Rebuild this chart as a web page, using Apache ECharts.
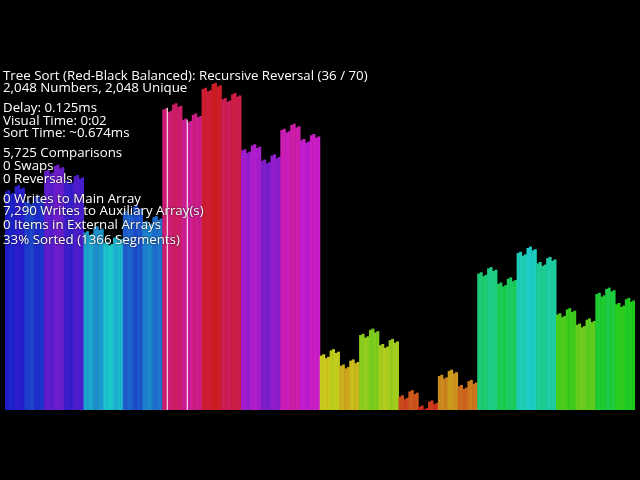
<!DOCTYPE html>
<html><head><meta charset="utf-8">
<script src="https://cdn.jsdelivr.net/npm/echarts@6/dist/echarts.min.js"></script>
<style>html,body{margin:0;background:#000}#c{width:640px;height:480px}</style>
</head><body><div id="c"></div><script>
// Each block = 128 array elements, drawn as 16 bars of 8 elements (average value)
const block00 = [1364,1372,1348,1356,1396,1404,1380,1388,1300,1308,1284,1292,1332,1340,1316,1324];
const block01 = [1492,1500,1476,1484,1524,1532,1508,1516,1428,1436,1412,1420,1460,1468,1444,1452];
const block02 = [1108,1116,1092,1100,1140,1148,1124,1132,1044,1052,1028,1036,1076,1084,1060,1068];
const block03 = [1236,1244,1220,1228,1268,1276,1252,1260,1172,1180,1156,1164,1204,1212,1188,1196];
const block04 = [1876,1884,1860,1868,1908,1916,1892,1900,1812,1820,1796,1804,1844,1852,1828,1836];
const block05 = [2004,2012,1988,1996,2036,2044,2020,2028,1940,1948,1924,1932,1972,1980,1956,1964];
const block06 = [1620,1628,1604,1612,1652,1660,1636,1644,1556,1564,1540,1548,1588,1596,1572,1580];
const block07 = [1748,1756,1732,1740,1780,1788,1764,1772,1684,1692,1668,1676,1716,1724,1700,1708];
const block08 = [340,348,324,332,372,380,356,364,276,284,260,268,308,316,292,300];
const block09 = [468,476,452,460,500,508,484,492,404,412,388,396,436,444,420,428];
const block10 = [84,92,68,76,116,124,100,108,20,28,4,12,52,60,36,44];
const block11 = [212,220,196,204,244,252,228,236,148,156,132,140,180,188,164,172];
const block12 = [852,860,836,844,884,892,868,876,788,796,772,780,820,828,804,812];
const block13 = [980,988,964,972,1012,1020,996,1004,916,924,900,908,948,956,932,940];
const block14 = [596,604,580,588,628,636,612,620,532,540,516,524,564,572,548,556];
const block15 = [724,732,708,716,756,764,740,748,660,668,644,652,692,700,676,684];
const values = [].concat(block00,block01,block02,block03,block04,block05,block06,block07,
  block08,block09,block10,block11,block12,block13,block14,block15);
const totalElements = 2048;
const markIndex = [527, 592];
const markValues = [1888, 1812];
const infoLines = [
  ['Tree Sort (Red-Black Balanced): Recursive Reversal (36 / 70)', 75.5],
  ['2,048 Numbers, 2,048 Unique', 87.5],
  ['Delay: 0.125ms', 108],
  ['Visual Time: 0:02', 120.5],
  ['Sort Time: ~0.674ms', 132.5],
  ['5,725 Comparisons', 152.5],
  ['0 Swaps', 166],
  ['0 Reversals', 178.5],
  ['0 Writes to Main Array', 198.5],
  ['7,290 Writes to Auxiliary Array(s)', 211],
  ['0 Items in External Arrays', 224.5],
  ['33% Sorted (1366 Segments)', 239.5]
];

function hsv(h, s, v) {
  const f = n => { const k = (n + h / 60) % 6; return v - v * s * Math.max(0, Math.min(k, 4 - k, 1)); };
  const c = x => Math.round(x * 255);
  return 'rgb(' + c(f(5)) + ',' + c(f(3)) + ',' + c(f(1)) + ')';
}

const cats = values.map((_, i) => i);
const fineCats = Array.from({length: totalElements}, (_, i) => i);
const markData = fineCats.map(() => null);
markIndex.forEach((idx, k) => { markData[idx] = markValues[k]; });

const chart = echarts.init(document.getElementById('c'), null, {renderer: 'canvas'});
chart.setOption({
  backgroundColor: '#000',
  animation: false,
  grid: {left: 5, right: 5, top: 82, bottom: 70},
  xAxis: [
    {type: 'category', data: cats, show: false},
    {type: 'category', data: fineCats, show: false}
  ],
  yAxis: {type: 'value', min: 0, max: 2048, show: false},
  series: [
    {
      type: 'bar', xAxisIndex: 0, data: values, barWidth: 3,
      itemStyle: {color: p => hsv(p.value / 2048 * 360, 0.86, 0.8)}
    },
    {
      type: 'bar', xAxisIndex: 1, data: markData, barWidth: 1, z: 5,
      itemStyle: {color: '#fff'}
    }
  ],
  graphic: infoLines.map(([t, y]) => ({
    type: 'text', left: 3, top: y - 6, z: 100,
    style: {
      text: t, fill: '#fff', font: '13.3px "Open Sans"',
      textShadowColor: 'rgba(0,0,0,0.9)', textShadowBlur: 2
    }
  }))
});
</script></body></html>
